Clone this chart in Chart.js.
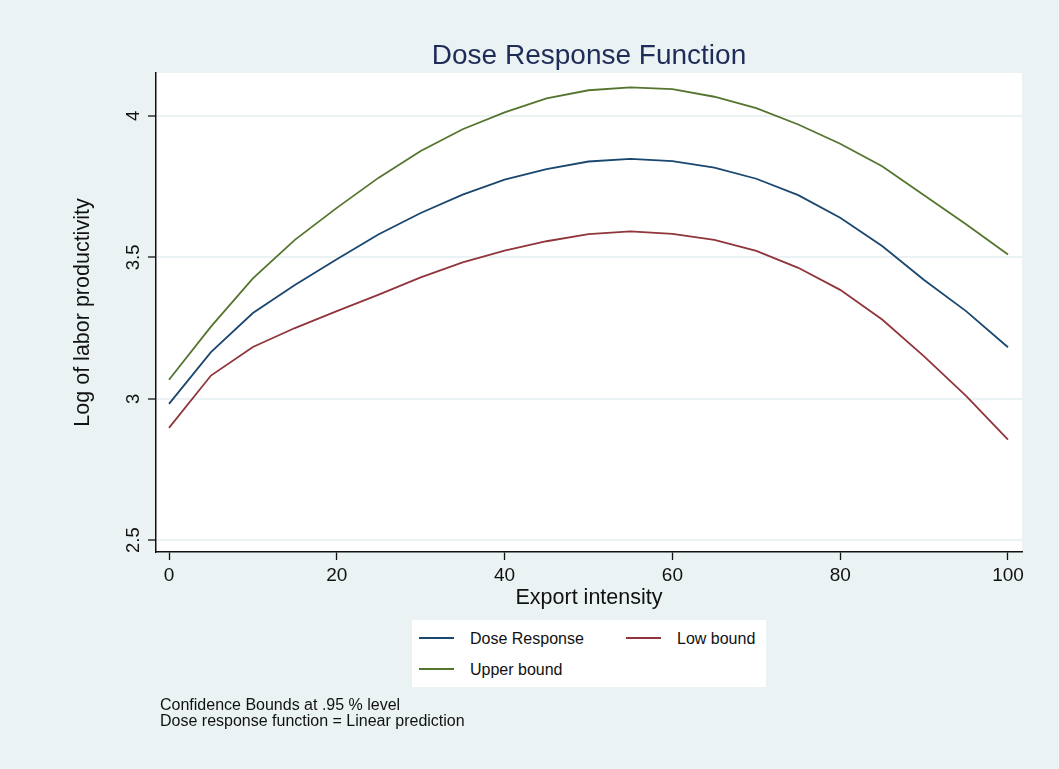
<!DOCTYPE html>
<html>
<head>
<meta charset="utf-8">
<script src="https://cdn.jsdelivr.net/npm/chart.js@4"></script>
<style>
  html, body { margin: 0; padding: 0; background: #EAF2F3; }
  body { width: 1059px; height: 769px; position: relative; overflow: hidden; font-family: "Liberation Sans", Arial, sans-serif; }
  #doseChart { position: absolute; left: 0; top: 0; }
  #legend { position: absolute; left: 412px; top: 620px; width: 354px; height: 67px; background: #fff; }
  #legend .swatch { position: absolute; height: 0; border-top: 2px solid; width: 35px; }
  #legend .label { position: absolute; font-size: 16px; line-height: 16px; color: #111; white-space: nowrap; }
  #notes { position: absolute; left: 160px; top: 697px; font-size: 16px; line-height: 15.7px; color: #111; }
</style>
</head>
<body>
<canvas id="doseChart" width="1059" height="769"></canvas>
<div id="legend"></div>
<div id="notes">Confidence Bounds at .95 % level<br>Dose response function = Linear prediction</div>
<script>
// values
const exportIntensity = [0, 5, 10, 15, 20, 25, 30, 35, 40, 45, 50, 55, 60, 65, 70, 75, 80, 85, 90, 95, 100];
const doseResponse = [2.982, 3.165, 3.303, 3.402, 3.493, 3.582, 3.657, 3.722, 3.775, 3.812, 3.839, 3.848, 3.840, 3.817, 3.778, 3.720, 3.640, 3.540, 3.420, 3.310, 3.182];
const lowBound = [2.897, 3.082, 3.183, 3.250, 3.310, 3.368, 3.429, 3.482, 3.524, 3.557, 3.582, 3.592, 3.583, 3.562, 3.523, 3.463, 3.385, 3.280, 3.150, 3.010, 2.855];
const upperBound = [3.067, 3.255, 3.426, 3.562, 3.675, 3.782, 3.876, 3.953, 4.013, 4.062, 4.091, 4.101, 4.095, 4.068, 4.028, 3.970, 3.902, 3.822, 3.720, 3.617, 3.510];

const xTicks = [0, 20, 40, 60, 80, 100];
const yTicks = [2.5, 3, 3.5, 4];

const FONT = '"Liberation Sans", Arial, sans-serif';

function toPoints(ys) {
    return exportIntensity.map((x, i) => ({ x: x, y: ys[i] }));
}

const seriesList = [
    { label: 'Dose Response', data: doseResponse, color: '#1A476F' },
    { label: 'Low bound', data: lowBound, color: '#90353B' },
    { label: 'Upper bound', data: upperBound, color: '#55752F' }
];

// white plot region
const plotBackground = {
    id: 'plotBackground',
    beforeDraw(chart) {
        const { ctx, chartArea } = chart;
        ctx.save();
        ctx.fillStyle = '#ffffff';
        ctx.fillRect(chartArea.left, chartArea.top, chartArea.right - chartArea.left, chartArea.bottom - chartArea.top);
        ctx.restore();
    }
};

// vertical y tick labels, like the Stata original
const rotatedYLabels = {
    id: 'rotatedYLabels',
    afterDraw(chart) {
        const { ctx } = chart;
        const scale = chart.scales.y;
        ctx.save();
        ctx.font = '18.5px ' + FONT;
        ctx.fillStyle = '#111';
        ctx.textAlign = 'center';
        ctx.textBaseline = 'middle';
        yTicks.forEach(v => {
            ctx.save();
            ctx.translate(134, scale.getPixelForValue(v));
            ctx.rotate(-Math.PI / 2);
            ctx.fillText(String(v), 0, 0);
            ctx.restore();
        });
        ctx.restore();
    }
};

const doseChart = new Chart(document.getElementById('doseChart').getContext('2d'), {
    type: 'line',
    data: {
        datasets: seriesList.map(s => ({
            label: s.label,
            data: toPoints(s.data),
            borderColor: s.color,
            backgroundColor: s.color,
            borderWidth: 1.8,
            pointRadius: 0,
            tension: 0,
            fill: false
        }))
    },
    options: {
        responsive: false,
        animation: false,
        layout: { padding: { left: 66, top: 41, right: 37, bottom: 154 } },
        plugins: {
            legend: { display: false },
            tooltip: { enabled: false },
            title: {
                display: true,
                text: 'Dose Response Function',
                color: '#1E2C58',
                fullSize: false,
                font: { family: FONT, size: 28, weight: 'normal', lineHeight: 1.1 },
                padding: { top: 0, bottom: 1.2 }
            }
        },
        scales: {
            x: {
                type: 'linear',
                min: -1.55,
                max: 101.67,
                afterBuildTicks: axis => { axis.ticks = xTicks.map(v => ({ value: v })); },
                afterFit: axis => { axis.height = 63; },
                grid: { drawOnChartArea: false, drawTicks: true, tickLength: 8, tickColor: '#111', tickWidth: 1.3 },
                border: { display: true, color: '#111', width: 1.5 },
                ticks: { color: '#111', padding: 4, maxRotation: 0, font: { family: FONT, size: 19 } },
                title: { display: true, text: 'Export intensity', color: '#111', font: { family: FONT, size: 21.5 }, padding: { top: 4, bottom: 4 } }
            },
            y: {
                min: 2.458,
                max: 4.152,
                afterBuildTicks: axis => { axis.ticks = yTicks.map(v => ({ value: v })); },
                afterFit: axis => { axis.width = 90; },
                grid: { color: '#EAF2F3', lineWidth: 2, drawTicks: true, tickLength: 8, tickColor: '#111', tickWidth: 1.3 },
                border: { display: true, color: '#111', width: 1.5 },
                ticks: { display: false },
                title: { display: true, text: 'Log of labor productivity', color: '#111', font: { family: FONT, size: 21.5 }, padding: { top: 4, bottom: 4 } }
            }
        }
    },
    plugins: [plotBackground, rotatedYLabels]
});

// legend in two columns, built from the datasets
const legendSpots = [
    { line: [7, 17], text: [58, 11] },
    { line: [214, 17], text: [265, 11] },
    { line: [7, 48], text: [58, 41.5] }
];
const legendBox = document.getElementById('legend');
doseChart.data.datasets.forEach((ds, i) => {
    const spot = legendSpots[i];
    const sw = document.createElement('span');
    sw.className = 'swatch';
    sw.style.left = spot.line[0] + 'px';
    sw.style.top = spot.line[1] + 'px';
    sw.style.borderTopColor = ds.borderColor;
    legendBox.appendChild(sw);
    const lb = document.createElement('span');
    lb.className = 'label';
    lb.style.left = spot.text[0] + 'px';
    lb.style.top = spot.text[1] + 'px';
    lb.textContent = ds.label;
    legendBox.appendChild(lb);
});
</script>
</body>
</html>
